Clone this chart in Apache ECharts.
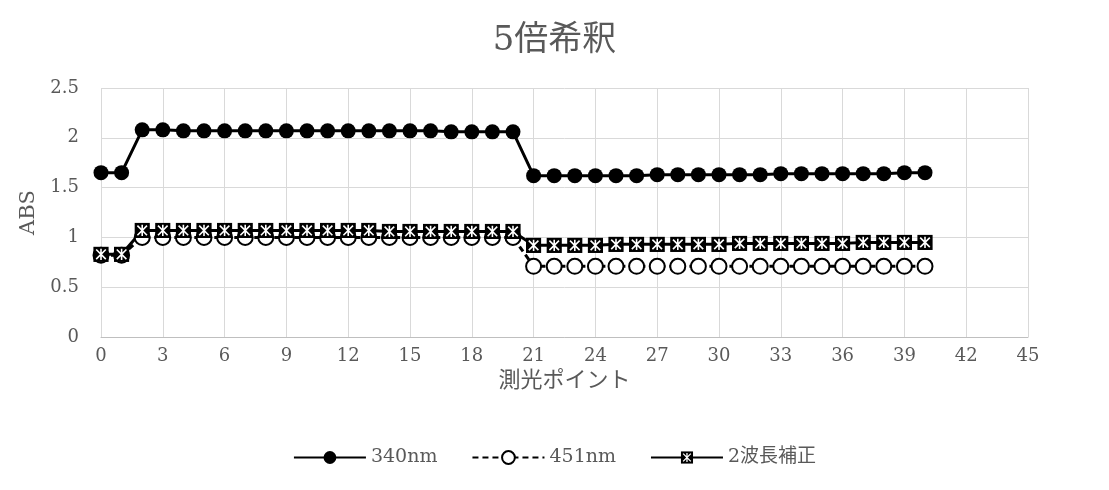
<!DOCTYPE html>
<html><head><meta charset="utf-8">
<script src="https://cdn.jsdelivr.net/npm/echarts@6/dist/echarts.min.js"></script>
<style>html,body{margin:0;padding:0;background:#fff}#c{width:1109px;height:490px}</style>
</head><body><div id="c"></div>
<script>
const title = "5倍希釈";
const xName = "測光ポイント";
const yName = "ABS";
const points = [0,1,2,3,4,5,6,7,8,9,10,11,12,13,14,15,16,17,18,19,20,21,22,23,24,25,26,27,28,29,30,31,32,33,34,35,36,37,38,39,40];
const s340 = [1.65,1.65,2.08,2.08,2.07,2.07,2.07,2.07,2.07,2.07,2.07,2.07,2.07,2.07,2.07,2.07,2.07,2.06,2.06,2.06,2.06,
  1.62,1.62,1.62,1.62,1.62,1.62,1.63,1.63,1.63,1.63,1.63,1.63,1.64,1.64,1.64,1.64,1.64,1.64,1.65,1.65];
const s451 = [0.82,0.82,1.0,1.0,1.0,1.0,1.0,1.0,1.0,1.0,1.0,1.0,1.0,1.0,1.0,1.0,1.0,1.0,1.0,1.0,1.0,
  0.71,0.71,0.71,0.71,0.71,0.71,0.71,0.71,0.71,0.71,0.71,0.71,0.71,0.71,0.71,0.71,0.71,0.71,0.71,0.71];
const sCorr = [0.83,0.83,1.07,1.07,1.07,1.07,1.07,1.07,1.07,1.07,1.07,1.07,1.07,1.07,1.06,1.06,1.06,1.06,1.06,1.06,1.06,
  0.92,0.92,0.92,0.92,0.93,0.93,0.93,0.93,0.93,0.93,0.94,0.94,0.94,0.94,0.94,0.94,0.95,0.95,0.95,0.95];
const seriesNames = ["340nm","451nm","2波長補正"];

const svg = '<svg xmlns="http://www.w3.org/2000/svg" width="20" height="20" viewBox="0 0 20 20">' +
  '<rect x="0.5" y="0.5" width="19" height="19" fill="#000"/>' +
  '<path d="M4 4 L16 16 M16 4 L4 16 M10 3 L10 17" stroke="#fff" stroke-width="2" fill="none"/></svg>';
const xSym = 'image://data:image/svg+xml;charset=utf-8,' + encodeURIComponent(svg);

const pair = arr => points.map((x,i)=>[x,arr[i]]);
const txt = '#595959';
const font = '"DejaVu Serif","Noto Sans CJK JP",serif';

const chart = echarts.init(document.getElementById('c'));
chart.setOption({
  animation:false,
  title:{text:title,left:'center',top:19,textStyle:{fontFamily:font,fontSize:34,fontWeight:'normal',color:txt}},
  grid:{left:101,right:81,top:88,bottom:153,containLabel:false},
  legend:{bottom:18,left:'center',itemWidth:72,itemHeight:16,itemGap:34,
    textStyle:{fontFamily:font,fontSize:19,color:txt},
    data:seriesNames},
  xAxis:{type:'value',min:0,max:45,interval:3,name:xName,nameLocation:'middle',nameGap:33,
    nameTextStyle:{fontFamily:font,fontSize:22,color:txt},
    axisLine:{show:true,lineStyle:{color:'#bfbfbf',width:1}},axisTick:{show:false},
    axisLabel:{fontFamily:font,fontSize:18,color:txt,margin:10},
    splitLine:{show:true,lineStyle:{color:'#d9d9d9',width:1}}},
  yAxis:{type:'value',min:0,max:2.5,interval:0.5,name:yName,nameLocation:'middle',nameGap:62,
    nameTextStyle:{fontFamily:font,fontSize:21,color:txt},
    axisLine:{show:false},axisTick:{show:false},
    axisLabel:{fontFamily:font,fontSize:18,color:txt,margin:22},
    splitLine:{show:true,lineStyle:{color:'#d9d9d9',width:1}}},
  series:[
    {name:seriesNames[0],type:'line',data:pair(s340),symbol:'circle',symbolSize:15,
      itemStyle:{color:'#000'},lineStyle:{color:'#000',width:3}},
    {name:seriesNames[1],type:'line',data:pair(s451),symbol:'circle',symbolSize:15,
      itemStyle:{color:'#fff',borderColor:'#000',borderWidth:2},lineStyle:{color:'#000',width:3,type:[6,4]}},
    {name:seriesNames[2],type:'line',data:pair(sCorr),symbol:xSym,symbolSize:16,
      itemStyle:{color:'#000'},lineStyle:{color:'#000',width:3}}
  ]
});
</script></body></html>
